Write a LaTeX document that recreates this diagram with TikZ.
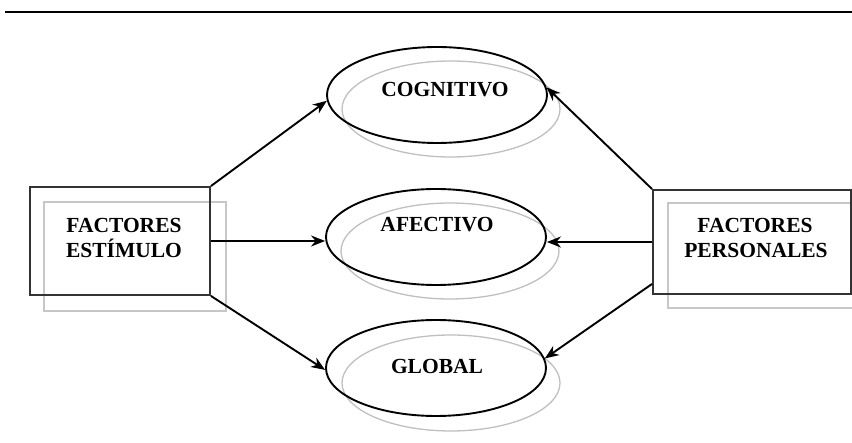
\documentclass[tikz,border=0pt]{standalone}
\usepackage{fontspec}
\setmainfont{Liberation Serif}
\usetikzlibrary{shapes.geometric,arrows.meta,calc}
\begin{document}
\begin{tikzpicture}[x=1pt,y=-1pt,
  boxmain/.style={draw=black!80,line width=1.9pt,rectangle,inner sep=0pt},
  boxshadow/.style={draw=black!22,line width=1.5pt,rectangle,inner sep=0pt},
  ellmain/.style={draw=black,line width=1.9pt,ellipse,inner sep=0pt,minimum width=220pt,minimum height=96pt},
  ellshadow/.style={draw=black!25,line width=1.3pt,ellipse,inner sep=0pt,minimum width=218pt,minimum height=96pt},
  lbl/.style={font=\fontsize{21.5}{24.5}\selectfont\bfseries,anchor=base,inner sep=0pt},
  arr/.style={draw=black,line width=1.9pt,-{Stealth[length=14pt,width=11pt]}}]
\useasboundingbox (0,0) rectangle (852,443);
\draw[line width=1.3pt] (5,12) coordinate (rl) -- (852,12) coordinate (rr);
% shadows
\node[boxshadow,minimum width=182pt,minimum height=109pt] (Ls) at (135,256.5) {};
\begin{scope}
\clip (0,0) rectangle (852,443);
\node[boxshadow,minimum width=198pt,minimum height=105pt] (Rs) at (767,255.5) {};
\end{scope}
\node[ellshadow] (Cs) at (451,109) {};
\node[ellshadow] (As) at (450,251) {};
\node[ellshadow] (Gs) at (451,383) {};
% main shapes
\node[boxmain,minimum width=180pt,minimum height=108pt] (L) at (120,241) {};
\node[boxmain,minimum width=198pt,minimum height=104pt] (R) at (752,242) {};
\node[ellmain] (C) at (437,95) {};
\node[ellmain] (A) at (436,237) {};
\node[ellmain] (G) at (436,368) {};
% texts
\node[lbl] (L1) at (124,233) {FACTORES};
\node[lbl] (L2) at (124,258) {ESTÍMULO};
\node[lbl] (R1) at (755,233) {FACTORES};
\node[lbl] (R2) at (756,258) {PERSONALES};
\node[lbl] (Ct) at (445,97) {COGNITIVO};
\node[lbl] (At) at (437,232) {AFECTIVO};
\node[lbl] (Gt) at (437,374) {GLOBAL};
% arrows
\draw[arr] (L.north east) -- (C.183);
\draw[arr] (L.east) -- (L.east -| A.west);
\draw[arr] (L.south east) -- (G.181);
\draw[arr] (R.north west) -- (C.4);
\draw[arr] (R.west) -- (R.west -| A.east);
\draw[arr] ([yshift=11pt]R.south west) -- (G.5);
\end{tikzpicture}
\end{document}
